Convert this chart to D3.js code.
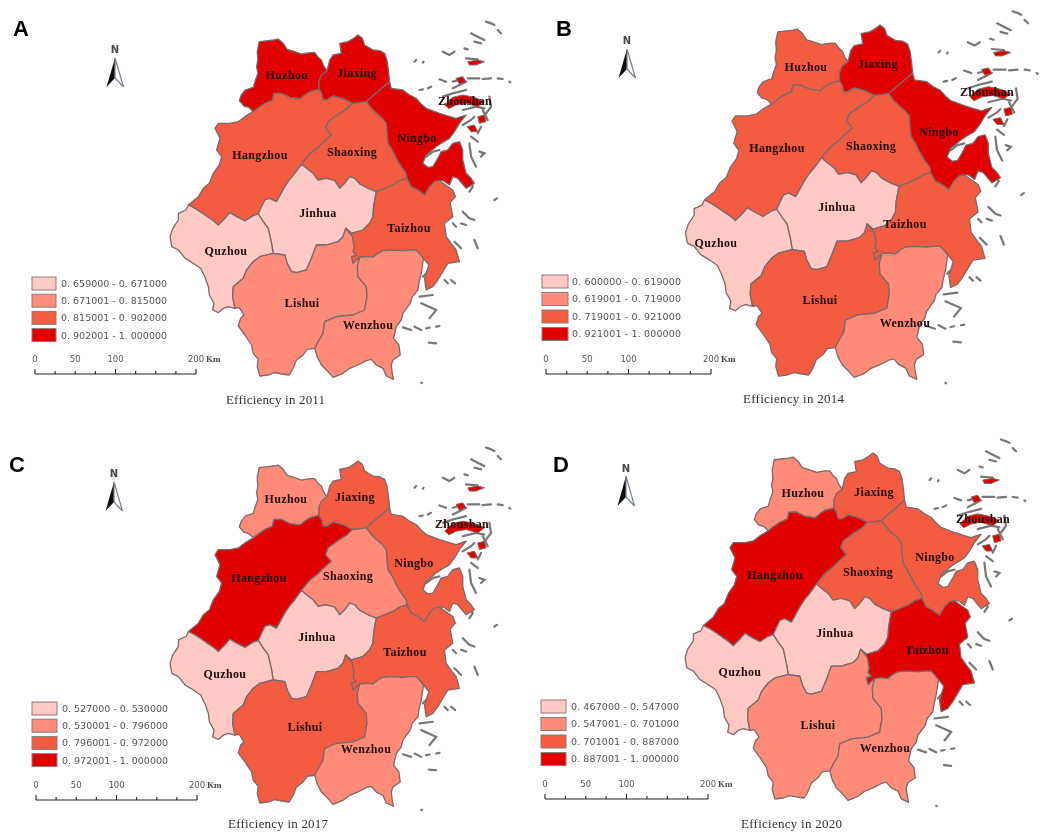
<!DOCTYPE html>
<html><head><meta charset="utf-8">
<script src="https://cdn.jsdelivr.net/npm/d3@7"></script>
<style>html,body{margin:0;background:#fff}svg{display:block}</style></head>
<body><svg id="c" width="1052" height="836"></svg>
<script>
// ---- data ----
const regionNames=["Huzhou","Jiaxing","Ningbo","Hangzhou","Shaoxing","Jinhua","Quzhou","Taizhou","Lishui","Wenzhou","Zhoushan"];
const classA=[3,3,3,2,2,0,0,2,1,1,3];
const classB=[2,3,3,2,2,0,0,2,2,1,3];
const classC=[1,2,2,3,1,0,0,2,2,1,3];
const classD=[1,2,2,3,2,0,0,3,1,1,3];
const legendA=["0. 659000 - 0. 671000","0. 671001 - 0. 815000","0. 815001 - 0. 902000","0. 902001 - 1. 000000"];
const legendB=["0. 600000 - 0. 619000","0. 619001 - 0. 719000","0. 719001 - 0. 921000","0. 921001 - 1. 000000"];
const legendC=["0. 527000 - 0. 530000","0. 530001 - 0. 796000","0. 796001 - 0. 972000","0. 972001 - 1. 000000"];
const legendD=["0. 467000 - 0. 547000","0. 547001 - 0. 701000","0. 701001 - 0. 887000","0. 887001 - 1. 000000"];
const years=[2011,2014,2017,2020];
const letters=["A","B","C","D"];
const scaleTicks=[0,50,100,200];
const scaleMinor=[0,25,50,75,100,125,150,175,200];
const palette=["#FFC9C6","#FF8B78","#F45B42","#E10006"];

// map geometry, in map units, as shared boundary arcs
const huzCoast=[[250,305],[237,292],[222,288],[208,272],[214,255],[226,240],[250,232],[256,212],[264,190],[260,170],[264,150],[262,125],[268,95],[295,92],[312,90],[325,87],[340,100],[352,118],[372,124],[395,132],[420,128],[435,128],[445,142],[455,150],[462,168],[472,182]];
const huzJia=[[472,182],[455,196],[448,212],[447,238]];
const huzHan=[[447,238],[420,245],[405,255],[390,267],[360,262],[335,250],[312,250],[308,270],[285,280],[270,290],[250,305]];
const jiaCoast=[[472,182],[480,150],[490,135],[515,130],[510,100],[535,95],[552,85],[565,75],[578,85],[585,105],[610,120],[630,122],[645,130],[652,150],[655,170],[658,195],[660,215]];
const jiaNin=[[660,215],[640,232],[625,245],[605,262],[590,275]];
const jiaSho=[[590,275],[570,278],[548,280]];
const hanJia=[[548,280],[520,266],[490,258],[472,270],[460,270],[455,250],[447,238]];
const hanSho=[[548,280],[530,298],[510,310],[475,335],[468,355],[485,375],[462,395],[445,412],[420,432],[395,462]];
const hanJin=[[395,462],[375,490],[358,510],[345,530],[320,575],[300,565],[285,570],[275,590],[265,612]];
const hanQuz=[[265,612],[250,617],[225,633],[200,620],[180,608],[165,625],[145,645],[130,632],[115,622],[95,608],[75,595],[55,585]];
const hanCoast=[[55,585],[85,560],[100,535],[118,520],[130,490],[148,465],[155,440],[140,420],[150,385],[135,355],[145,340],[180,340],[205,335],[225,320],[250,305]];
const shoNin=[[590,275],[605,295],[620,310],[638,325],[650,340],[652,370],[655,400],[668,420],[680,445],[695,470],[710,490],[712,505]];
const shoTai=[[712,505],[690,512],[670,525],[645,535],[620,545]];
const shoJin=[[620,545],[595,535],[570,522],[555,505],[540,500],[525,520],[510,535],[495,512],[470,505],[445,510],[430,490],[410,475],[395,462]];
const ninCoast=[[660,215],[665,235],[700,240],[720,255],[740,265],[755,282],[770,295],[810,310],[835,318],[860,325],[890,315],[870,340],[855,365],[840,385],[815,400],[800,410],[770,435],[760,460],[775,472],[790,470],[805,445],[815,425],[835,420],[850,400],[870,395],[880,420],[880,450],[890,490],[905,505],[915,520],[890,535],[865,505],[850,500],[840,525],[822,512],[810,512]];
const ninTai=[[810,512],[795,515],[780,530],[765,555],[745,540],[725,530],[712,505]];
const taiCoast=[[810,512],[850,540],[858,560],[842,578],[850,620],[825,640],[830,680],[848,705],[860,720],[870,755],[835,760],[820,785],[805,810],[790,830],[770,840],[765,805],[778,765],[762,745]];
const taiWen=[[762,745],[740,720],[720,720],[700,722],[665,720],[640,722],[625,730],[610,742],[590,740],[570,742]];
const taiLis=[[570,742],[550,760],[545,740],[560,735],[550,725],[553,710],[548,680],[528,655]];
const jinTai=[[528,655],[545,670],[580,660],[600,640],[610,620],[612,590],[620,545]];
const wenCoast=[[762,745],[755,790],[748,820],[745,840],[728,860],[722,880],[700,910],[695,930],[680,950],[672,985],[688,1005],[692,1035],[670,1050],[665,1065],[668,1090],[672,1108],[650,1098],[640,1075],[620,1065],[605,1048],[590,1052],[565,1065],[540,1075],[520,1090],[490,1102],[475,1085],[455,1065],[442,1040],[435,1015]];
const lisWen=[[435,1015],[448,990],[460,970],[465,935],[500,920],[550,915],[585,900],[592,860],[590,830],[565,800],[563,770],[570,742]];
const lisCoast=[[435,1015],[412,1018],[400,1035],[380,1050],[370,1075],[358,1095],[335,1092],[315,1088],[295,1095],[270,1098],[262,1070],[265,1048],[250,1030],[245,1005],[225,975],[205,948],[212,925],[222,915],[208,893],[195,895]];
const lisQuz=[[195,895],[188,860],[190,830],[220,805],[230,780],[250,755],[270,740],[310,730]];
const jinLis=[[310,730],[345,735],[352,760],[365,785],[380,788],[410,780],[425,745],[440,705],[470,705],[505,695],[520,680],[528,655]];
const quzJin=[[310,730],[305,700],[295,655],[280,635],[265,612]];
const quzCoast=[[195,895],[175,890],[160,895],[145,908],[128,900],[132,880],[118,855],[115,830],[105,802],[92,775],[62,755],[45,745],[25,720],[5,710],[0,680],[8,655],[25,630],[25,610],[48,600],[55,585]];

const ringHuzhou=[[huzCoast,1],[huzJia,1],[huzHan,1]];
const ringJiaxing=[[jiaCoast,1],[jiaNin,1],[jiaSho,1],[hanJia,1],[huzJia,-1]];
const ringNingbo=[[jiaNin,-1],[ninCoast,1],[ninTai,1],[shoNin,-1]];
const ringHangzhou=[[huzHan,-1],[hanJia,-1],[hanSho,1],[hanJin,1],[hanQuz,1],[hanCoast,1]];
const ringShaoxing=[[jiaSho,-1],[shoNin,1],[shoTai,1],[shoJin,1],[hanSho,-1]];
const ringJinhua=[[hanJin,-1],[shoJin,-1],[jinTai,-1],[jinLis,-1],[quzJin,1]];
const ringQuzhou=[[hanQuz,-1],[quzJin,-1],[lisQuz,-1],[quzCoast,1]];
const ringTaizhou=[[shoTai,-1],[ninTai,-1],[taiCoast,1],[taiWen,1],[taiLis,1],[jinTai,1]];
const ringLishui=[[taiLis,-1],[lisWen,-1],[lisCoast,1],[lisQuz,1],[jinLis,1]];
const ringWenzhou=[[taiWen,-1],[wenCoast,1],[lisWen,1]];
const mainlandRings=[ringHuzhou,ringJiaxing,ringNingbo,ringHangzhou,ringShaoxing,ringJinhua,ringQuzhou,ringTaizhou,ringLishui,ringWenzhou];

const zhoushanIslands=[
 [[850,262],[880,255],[915,262],[945,275],[925,290],[890,280],[860,285],[838,296],[826,284]],
 [[860,205],[880,200],[890,215],[870,222]],
 [[895,155],[925,150],[945,155],[920,165],[900,165]],
 [[893,350],[915,345],[925,365],[905,365]],
 [[925,320],[945,315],[950,335],[930,340]]];
const greyIslets=[
 [[950,35],[965,40],[975,45]],[[985,60],[995,70]],[[905,70],[925,80],[945,90]],[[915,95],[935,100]],
 [[820,125],[840,135],[855,125]],[[885,115],[895,118]],[[735,155],[740,150]],[[760,158],[762,155]],
 [[890,145],[925,148]],[[810,208],[830,215]],[[850,215],[875,208]],[[895,205],[930,205]],[[940,207],[965,205]],[[985,205],[1000,207]],
 [[1020,215],[1023,217]],[[750,240],[760,238]],[[775,235],[785,230]],[[850,235],[870,225],[890,215]],
 [[820,260],[850,250],[890,240]],[[960,260],[965,290],[950,310]],[[880,300],[920,290],[945,295]],
 [[880,345],[905,330],[915,320]],[[935,350],[925,370]],[[930,425],[945,430],[935,440]],[[975,570],[983,565]],
 [[880,605],[900,625],[915,630]],[[875,640],[890,645]],[[915,690],[925,715]],[[855,695],[875,715]],
 [[750,860],[790,855]],[[755,880],[800,900],[780,925]],[[700,952],[725,960]],[[735,950],[755,960]],
 [[770,955],[780,953]],[[800,950],[810,948]],[[778,998],[800,1000]],[[755,1118],[757,1119]],
 [[825,810],[835,820]],[[845,810],[857,820]],[[850,640],[860,650]],[[760,800],[770,790]],
 [[890,495],[910,530],[900,545]],[[770,440],[790,425],[810,420]],[[905,380],[925,395]],[[940,300],[955,330]],[[900,400],[905,440],[920,470]]];

const labelsA=[[287,75],[357,73],[417,138],[260,155],[352,152],[318,213],[226,251],[409,228],[302,303],[368,325],[465,101]];
const labelsB=[[806,67],[878,64],[939,132],[777,148],[871,146],[837,207],[716,243],[905,224],[820,300],[905,323],[987,92]];
const labelsC=[[286,499],[355,497],[414,563],[259,578],[348,576],[317,637],[225,674],[405,652],[305,727],[366,749],[462,524]];
const labelsD=[[803,493],[874,492],[935,557],[775,575],[868,572],[835,633],[740,672],[927,650],[818,725],[885,748],[983,519]];

// ---- panel layout ----
const panels=[
 {cls:classA,leg:legendA,lab:labelsA,mx:[215,358],my:[35,375],lg:[32,277,24,13,17.2,61,106],bar:[35,196,374],t:[226,99,400],n:[115,49,58,87],L:[21,36]},
 {cls:classB,leg:legendB,lab:labelsB,mx:[732,880],my:[25,375],lg:[542,275,26,13,17.5,572,109],bar:[546,711,374],t:[743,101,399],n:[627,40,49,78],L:[564,36]},
 {cls:classC,leg:legendC,lab:labelsC,mx:[215,358],my:[461,802],lg:[32,702,25,13,17.2,62,106],bar:[36,197,800],t:[228,100,824],n:[114,473,482,511],L:[17,472]},
 {cls:classD,leg:legendD,lab:labelsD,mx:[730,873],my:[453,798],lg:[541,700,25,13,17.5,571,108],bar:[545,708,799],t:[741,101,824],n:[626,468,476,506],L:[561,472]}];

const svg=d3.select("#c");
const defs=svg.append("defs");
defs.append("filter").attr("id","soft").attr("x","-5%").attr("y","-5%").attr("width","110%").attr("height","110%")
  .append("feGaussianBlur").attr("stdDeviation",0.7);
const root=svg.append("g").attr("filter","url(#soft)");
root.append("rect").attr("width",1052).attr("height",836).attr("fill","#fff");
const serif="'Liberation Serif',serif", sans="'DejaVu Sans',sans-serif";

panels.forEach((p,pi)=>{
  const g=root.append("g");
  const x=d3.scaleLinear().domain([135,565]).range(p.mx);
  const y=d3.scaleLinear().domain([75,1095]).range(p.my);
  const line=d3.line().x(d=>x(d[0])).y(d=>y(d[1]));
  const ringPts=r=>r.flatMap(([a,dir])=>dir>0?a:a.slice().reverse());

  // islets
  g.append("g").selectAll("path").data(greyIslets).join("path")
    .attr("d",line).attr("fill","none").attr("stroke","#777").attr("stroke-width",2.2).attr("stroke-linecap","round");
  g.append("g").selectAll("path").data(zhoushanIslands).join("path")
    .attr("d",d=>line(d)+"Z").attr("fill",palette[p.cls[10]]).attr("stroke","#7d6a6a").attr("stroke-width",1);
  // mainland
  g.append("g").selectAll("path").data(mainlandRings).join("path")
    .attr("d",r=>line(ringPts(r))+"Z")
    .attr("fill",(r,i)=>palette[p.cls[i]])
    .attr("stroke","#7c6868").attr("stroke-width",1.3).attr("stroke-linejoin","round");
  // labels
  g.append("g").selectAll("text").data(regionNames).join("text")
    .attr("x",(d,i)=>p.lab[i][0]).attr("y",(d,i)=>p.lab[i][1]+3.5)
    .attr("text-anchor","middle").attr("font-family",serif).attr("font-weight","bold")
    .attr("font-size",12).attr("letter-spacing",0.35).attr("fill","#200808").text(d=>d);

  // legend
  const [lx,ly,lw,lh,ls,tx,tw]=p.lg;
  const rows=g.append("g").selectAll("g").data(p.leg).join("g");
  rows.append("rect").attr("x",lx).attr("y",(d,i)=>ly+i*ls).attr("width",lw).attr("height",lh)
    .attr("fill",(d,i)=>palette[i]).attr("stroke","#8c7c7c").attr("stroke-width",1);
  rows.append("text").attr("x",tx).attr("y",(d,i)=>ly+i*ls+lh/2+3.4)
    .attr("font-family",sans).attr("font-size",9.5).attr("fill","#555")
    .attr("textLength",tw).attr("lengthAdjust","spacing").text(d=>d);

  // scale bar
  const [b0,b1,by]=p.bar;
  const sx=d3.scaleLinear().domain([0,200]).range([b0,b1]);
  const bar=g.append("g");
  bar.append("line").attr("x1",sx(0)).attr("x2",sx(200)).attr("y1",by).attr("y2",by).attr("stroke","#222").attr("stroke-width",1.2);
  bar.selectAll("line.t").data(scaleMinor).join("line").attr("class","t")
    .attr("x1",sx).attr("x2",sx).attr("y1",by).attr("y2",d=>by-(d%100===0?5:3)).attr("stroke","#222").attr("stroke-width",1.1);
  bar.selectAll("text.t").data(scaleTicks).join("text").attr("class","t")
    .attr("x",sx).attr("y",by-12).attr("text-anchor","middle").attr("font-family",sans).attr("font-size",8.5).attr("fill","#555").text(d=>d);
  bar.append("text").attr("x",sx(200)+10).attr("y",by-12).attr("font-family",serif).attr("font-weight","bold").attr("font-size",9).attr("fill","#444").text("Km");

  // caption
  g.append("text").attr("x",p.t[0]).attr("y",p.t[2]+4).attr("font-family",serif).attr("font-size",13).attr("fill","#333")
    .attr("textLength",p.t[1]).attr("lengthAdjust","spacing").text("Efficiency in "+years[pi]);

  // north arrow
  const [nx,ny,tip,base]=p.n;
  const a=g.append("g");
  a.append("path").attr("d",`M${nx},${tip}L${nx-8.5},${base}L${nx},${base-9}Z`).attr("fill","#111");
  a.append("path").attr("d",`M${nx},${tip}L${nx+8.5},${base}L${nx},${base-9}Z`).attr("fill","#fff").attr("stroke","#78828c").attr("stroke-width",1.2);
  a.append("text").attr("x",nx).attr("y",ny+4).attr("text-anchor","middle").attr("font-family",sans).attr("font-weight","bold").attr("font-size",10).attr("fill","#444").text("N");

  // panel letter
  g.append("text").attr("x",p.L[0]).attr("y",p.L[1]).attr("text-anchor","middle")
    .attr("font-family","'Liberation Sans',sans-serif").attr("font-weight","bold").attr("font-size",22).attr("fill","#000").text(letters[pi]);
});
</script></body></html>
